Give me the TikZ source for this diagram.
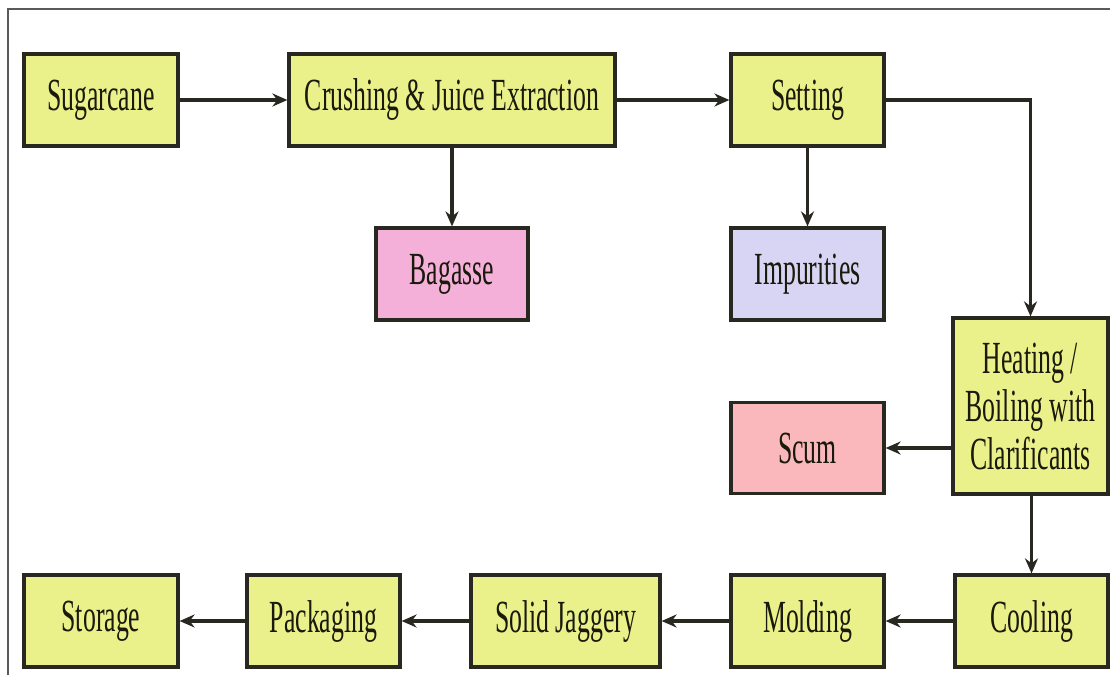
\documentclass[tikz,border=0pt]{standalone}
\usepackage{fontspec}
\newfontfamily\condfont[FakeStretch=0.56]{Liberation Serif}
\usetikzlibrary{arrows.meta}
\definecolor{boxyellow}{RGB}{234,240,138}
\definecolor{boxpink}{RGB}{244,176,216}
\definecolor{boxlav}{RGB}{216,212,244}
\definecolor{boxred}{RGB}{251,184,188}
\definecolor{edgecol}{RGB}{40,40,32}
\definecolor{txtcol}{RGB}{25,25,12}
\definecolor{framecol}{RGB}{90,90,90}
\tikzset{
  procbox/.style={draw=edgecol, line width=3.2pt, fill=boxyellow, minimum height=92pt, inner sep=0pt,
    font=\condfont\fontsize{46}{48}\selectfont, text=txtcol, align=center},
  flowarrow/.style={draw=edgecol, line width=3.2pt, -{Stealth[length=15pt,width=13pt]}},
  frameline/.style={draw=framecol, line width=2pt}
}
\begin{document}
\begin{tikzpicture}[x=1pt,y=-1pt]
\useasboundingbox (0,0) rectangle (1110,675);
\draw[frameline] (8,675) -- (8,9) -- (1110,9);
\node[procbox, minimum width=154pt] (sug) at (101,100) {Sugarcane};
\node[procbox, minimum width=326pt] (cru) at (452,100) {Crushing \& Juice Extraction};
\node[procbox, minimum width=153pt] (set) at (807.5,100) {Setting};
\node[procbox, minimum width=152pt, fill=boxpink] (bag) at (452,274) {Bagasse};
\node[procbox, minimum width=153pt, fill=boxlav] (imp) at (807.5,274) {Impurities};
\node[procbox, minimum width=155pt, minimum height=176pt] (heat) at (1030.5,406) {Heating /\\Boiling with\\Clarificants};
\node[procbox, minimum width=153pt, minimum height=91pt, fill=boxred] (scum) at (807.5,448) {Scum};
\node[procbox, minimum width=153pt] (cool) at (1031.5,621) {Cooling};
\node[procbox, minimum width=153pt] (mold) at (807.5,621) {Molding};
\node[procbox, minimum width=189pt] (jag) at (565.5,621) {Solid Jaggery};
\node[procbox, minimum width=153pt] (pack) at (323.5,621) {Packaging};
\node[procbox, minimum width=154pt] (stor) at (101,621) {Storage};
\draw[flowarrow] (sug) -- (cru);
\draw[flowarrow] (cru) -- (set);
\draw[flowarrow] (cru) -- (bag);
\draw[flowarrow] (set) -- (imp);
\draw[flowarrow] (set.east) -| (heat.north);
\draw[flowarrow] (heat.west |- scum.east) -- (scum.east);
\draw[flowarrow] (heat.south -| cool.north) -- (cool.north);
\draw[flowarrow] (cool) -- (mold);
\draw[flowarrow] (mold) -- (jag);
\draw[flowarrow] (jag) -- (pack);
\draw[flowarrow] (pack) -- (stor);
\end{tikzpicture}
\end{document}
